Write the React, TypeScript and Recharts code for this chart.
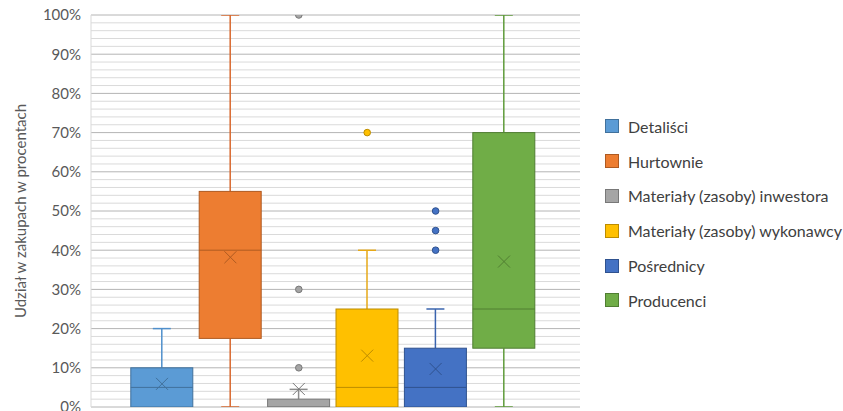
import React from "react";
import {
  ComposedChart,
  Bar,
  Scatter,
  XAxis,
  YAxis,
  CartesianGrid,
} from "recharts";

// series (one box each), values in percent
const seriesNames = [
  "Detaliści",
  "Hurtownie",
  "Materiały (zasoby) inwestora",
  "Materiały (zasoby) wykonawcy",
  "Pośrednicy",
  "Producenci",
];
const whiskerMin = [0, 0, 0, 0, 0, 0];
const q1 = [0, 17.5, 0, 0, 0, 15];
const medians = [5, 40, 0, 5, 5, 25];
const q3 = [10, 55, 2, 25, 15, 70];
const whiskerMax = [20, 100, 4.5, 40, 25, 100];
const means = [5.9, 38.2, 4.6, 13.1, 9.7, 37.1];
const outliers = [[], [], [10, 30, 100], [70], [40, 45, 50], []];

const yTicks = [0, 10, 20, 30, 40, 50, 60, 70, 80, 90, 100];

const fills = ["#5B9BD5", "#ED7D31", "#A5A5A5", "#FFC000", "#4472C4", "#70AD47"];
const borders = ["#41719C", "#AE5A21", "#787878", "#BC8C00", "#2F528F", "#507E32"];
const whiskerColors = ["#4F8FCB", "#D8682E", "#8C8C8C", "#E6A817", "#3A64AE", "#5F9B3A"];

const FONT = "Lato, 'Open Sans', sans-serif";

const boxData = seriesNames.map((name, i) => ({
  x: i,
  name,
  min: whiskerMin[i],
  q1: q1[i],
  median: medians[i],
  q3: q3[i],
  max: whiskerMax[i],
}));

const meanData = seriesNames.map((name, i) => ({ x: i, value: means[i] }));

const outlierData = outliers.flatMap((vals, i) =>
  vals.map((v) => ({ x: i, value: v }))
);

const minorTicks: number[] = [];
for (let v = 0; v <= 100; v += 2) if (v % 10 !== 0) minorTicks.push(v);

// bar covers whisker min..max; everything else is placed on the same scale
function BoxShape(props: any) {
  const { x, y, width, height, payload } = props;
  const i = payload.x;
  const span = payload.max - payload.min;
  const py = (v: number) => y + height - ((v - payload.min) / span) * height;
  const cx = x + width / 2;
  const capW = 9;
  const wc = whiskerColors[i];
  return (
    <g>
      <line x1={cx} x2={cx} y1={py(payload.max)} y2={py(payload.q3)} stroke={wc} strokeWidth={1.5} />
      <line x1={cx - capW} x2={cx + capW} y1={py(payload.max)} y2={py(payload.max)} stroke={wc} strokeWidth={1.5} />
      <line x1={cx} x2={cx} y1={py(payload.q1)} y2={py(payload.min)} stroke={wc} strokeWidth={1.5} />
      <line x1={cx - capW} x2={cx + capW} y1={py(payload.min)} y2={py(payload.min)} stroke={wc} strokeWidth={1.5} />
      <rect
        x={x}
        y={py(payload.q3)}
        width={width}
        height={py(payload.q1) - py(payload.q3)}
        fill={fills[i]}
        stroke={borders[i]}
        strokeWidth={1}
      />
      <line x1={x} x2={x + width} y1={py(payload.median)} y2={py(payload.median)} stroke={borders[i]} strokeWidth={1} />
    </g>
  );
}

function MeanShape(props: any) {
  const { cx, cy, payload } = props;
  const s = 6;
  const c = borders[payload.x];
  return (
    <g stroke={c} strokeWidth={1}>
      <line x1={cx - s} y1={cy - s} x2={cx + s} y2={cy + s} />
      <line x1={cx - s} y1={cy + s} x2={cx + s} y2={cy - s} />
    </g>
  );
}

function OutlierShape(props: any) {
  const { cx, cy, payload } = props;
  return (
    <circle cx={cx} cy={cy} r={3.3} fill={fills[payload.x]} stroke={borders[payload.x]} strokeWidth={1} />
  );
}

export default function App() {
  return (
    <div
      style={{
        position: "absolute",
        left: 0,
        top: 0,
        width: 843,
        height: 411,
        overflow: "hidden",
        background: "#fff",
        fontFamily: FONT,
      }}
    >
      <ComposedChart
        width={843}
        height={411}
        data={boxData}
        margin={{ top: 15, right: 263, bottom: 4, left: 0 }}
        style={{ overflow: "visible" }}
      >
        <CartesianGrid horizontalValues={minorTicks} vertical={false} stroke="#DADADA" />
        <CartesianGrid horizontalValues={yTicks} vertical={false} stroke="#B4B4B4" />
        <XAxis dataKey="x" type="number" domain={[-1.038, 6.111]} hide />
        <YAxis
          type="number"
          domain={[0, 100]}
          ticks={yTicks}
          interval={0}
          allowDataOverflow
          width={91}
          tickFormatter={(v) => `${v}%`}
          tickLine={false}
          tickMargin={4}
          axisLine={{ stroke: "#D9D9D9" }}
          tick={{ fill: "#595959", fontSize: 15, fontFamily: FONT }}
          label={{
            value: "Udział w zakupach w procentach",
            angle: -90,
            position: "insideLeft",
            offset: 21,
            style: { textAnchor: "middle", fill: "#595959", fontSize: 15, fontFamily: FONT },
          }}
        />
        <Bar
          dataKey={(r: any) => [r.min, r.max]}
          barSize={62}
          shape={<BoxShape />}
          isAnimationActive={false}
        />
        <Scatter data={outlierData} dataKey="value" shape={<OutlierShape />} isAnimationActive={false} />
        <Scatter data={meanData} dataKey="value" shape={<MeanShape />} isAnimationActive={false} />
      </ComposedChart>
      <div style={{ position: "absolute", left: 605, top: 109 }}>
        {seriesNames.map((name, i) => (
          <div
            key={name}
            style={{ display: "flex", alignItems: "center", height: 34.8, whiteSpace: "nowrap" }}
          >
            <span
              style={{
                width: 14,
                height: 14,
                background: fills[i],
                border: `1px solid ${borders[i]}`,
                boxSizing: "border-box",
                marginRight: 9,
              }}
            />
            <span style={{ fontSize: 16, color: "#404040" }}>{name}</span>
          </div>
        ))}
      </div>
    </div>
  );
}
